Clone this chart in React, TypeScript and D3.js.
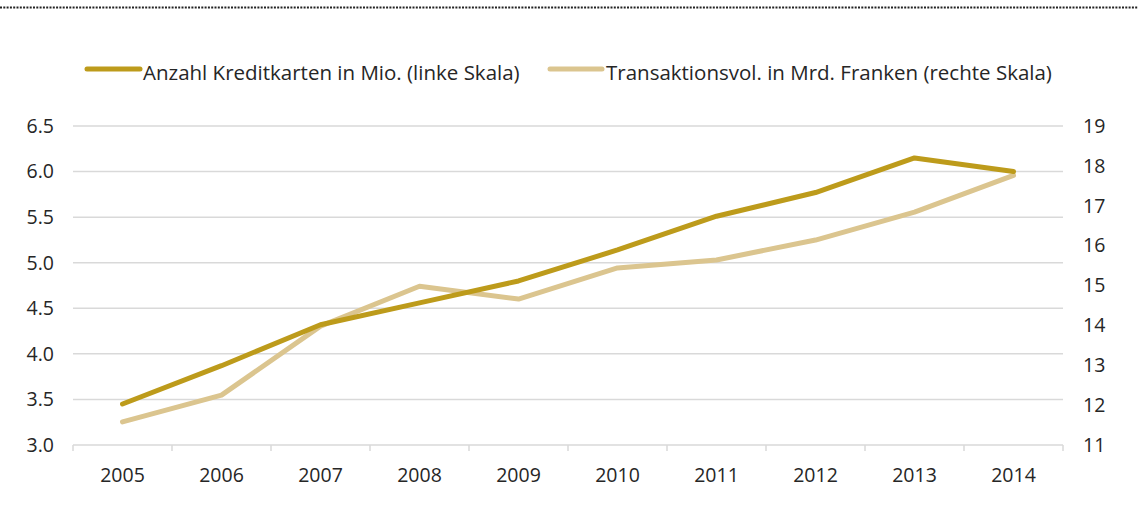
import React from "react";
import * as d3 from "d3";

// data
const years = ["2005", "2006", "2007", "2008", "2009", "2010", "2011", "2012", "2013", "2014"];
const cards = [3.45, 3.87, 4.32, 4.56, 4.8, 5.14, 5.51, 5.77, 6.15, 6.0];
const volume = [11.58, 12.25, 13.98, 14.98, 14.66, 15.44, 15.64, 16.14, 16.84, 17.76];
const leftTicks = [3.0, 3.5, 4.0, 4.5, 5.0, 5.5, 6.0, 6.5];
const rightTicks = [11, 12, 13, 14, 15, 16, 17, 18, 19];
const seriesNames = ["Anzahl Kreditkarten in Mio. (linke Skala)", "Transaktionsvol. in Mrd. Franken (rechte Skala)"];

const GOLD = "#bd9b1b";
const SAND = "#dbc58f";
const GRID = "#d9d9d9";
const FONT = "'Open Sans', sans-serif";

export default function App() {
  const width = 1138, height = 518;
  const margin = { top: 126, right: 75, bottom: 73, left: 73 };
  const w = width - margin.left - margin.right;
  const h = height - margin.top - margin.bottom;

  const x = d3.scaleBand().domain(years).range([0, w]);
  const yL = d3.scaleLinear().domain([3, 6.5]).range([h, 0]);
  const yR = d3.scaleLinear().domain([11, 19]).range([h, 0]);

  const cx = (d: string) => (x(d) as number) + x.bandwidth() / 2;
  const lineL = d3.line<number>().x((_, i) => cx(years[i])).y(d => yL(d));
  const lineR = d3.line<number>().x((_, i) => cx(years[i])).y(d => yR(d));

  return (
    <svg width={width} height={height} style={{ position: "absolute", left: 0, top: 0, fontFamily: FONT }}>
      {/* dotted rule at the top */}
      <line x1={0} x2={width} y1={7.5} y2={7.5} stroke="#222" strokeWidth={2} strokeDasharray="2,1.3" />

      {/* legend */}
      <g>
        <line x1={87} x2={140} y1={69} y2={69} stroke={GOLD} strokeWidth={5} strokeLinecap="round" />
        <text x={143} y={80} fontSize={20.5} fill="#262626">{seriesNames[0]}</text>
        <line x1={550} x2={602} y1={69} y2={69} stroke={SAND} strokeWidth={5} strokeLinecap="round" />
        <text x={606} y={80} fontSize={20.5} fill="#262626">{seriesNames[1]}</text>
      </g>

      <g transform={`translate(${margin.left},${margin.top})`}>
        {leftTicks.map(t => (
          <g key={t}>
            <line x1={0} x2={w} y1={yL(t)} y2={yL(t)} stroke={GRID} strokeWidth={1.5} />
            <text x={-19} y={yL(t)} dy="0.35em" textAnchor="end" fontSize={19.5} fill="#262626">{t.toFixed(1)}</text>
          </g>
        ))}
        {rightTicks.map(t => (
          <text key={t} x={w + 20} y={yR(t)} dy="0.35em" fontSize={19.5} fill="#262626">{t}</text>
        ))}
        {/* category tick marks */}
        {years.concat([""]).map((d, i) => {
          const xx = i < years.length ? (x(d) as number) : w;
          return <line key={i} x1={xx} x2={xx} y1={h} y2={h + 6} stroke={GRID} strokeWidth={1.5} />;
        })}
        {years.map(d => (
          <text key={d} x={cx(d)} y={h + 37} textAnchor="middle" fontSize={19.5} fill="#262626">{d}</text>
        ))}

        <path d={lineR(volume) as string} fill="none" stroke={SAND} strokeWidth={5} strokeLinejoin="round" strokeLinecap="round" />
        <path d={lineL(cards) as string} fill="none" stroke={GOLD} strokeWidth={5} strokeLinejoin="round" strokeLinecap="round" />
      </g>
    </svg>
  );
}
